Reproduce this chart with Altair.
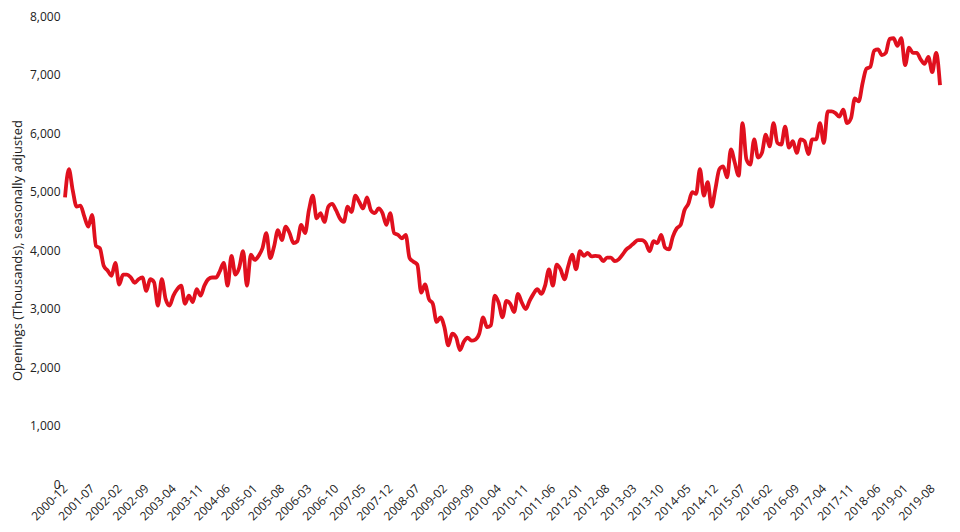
import altair as alt
import pandas as pd

start_year = 2000
start_month = 12

openings = [
    4900, 5380, 5020, 4740, 4760, 4570, 4400, 4600, 4070, 4030,
    3730, 3650, 3560, 3780, 3410, 3580, 3580, 3530, 3440, 3500,
    3530, 3300, 3500, 3450, 3050, 3500, 3160, 3050, 3220, 3330,
    3390, 3080, 3220, 3110, 3330, 3220, 3390, 3500, 3530, 3530,
    3640, 3780, 3390, 3900, 3580, 3700, 3980, 3390, 3920, 3830,
    3900, 4030, 4290, 3860, 4060, 4340, 4170, 4400, 4290, 4120,
    4150, 4430, 4290, 4680, 4930, 4540, 4630, 4480, 4740, 4790,
    4680, 4540, 4480, 4740, 4650, 4930, 4820, 4710, 4900, 4680,
    4630, 4710, 4630, 4430, 4630, 4290, 4260, 4200, 4260, 3860,
    3800, 3750, 3270, 3410, 3160, 3080, 2770, 2850, 2680, 2370,
    2570, 2510, 2290, 2430, 2500, 2450, 2470, 2570, 2850, 2680,
    2710, 3220, 3100, 2850, 3130, 3080, 2940, 3250, 3100, 2990,
    3130, 3250, 3330, 3250, 3390, 3670, 3390, 3750, 3670, 3500,
    3730, 3920, 3670, 3980, 3900, 3950, 3890, 3900, 3890, 3810,
    3870, 3870, 3810, 3840, 3920, 4010, 4060, 4120, 4170, 4170,
    4120, 3980, 4150, 4120, 4260, 4040, 4010, 4230, 4370, 4430,
    4680, 4790, 4990, 4960, 5380, 4930, 5160, 4740, 5050, 5380,
    5430, 5240, 5720, 5490, 5270, 6170, 5550, 5460, 5890, 5580,
    5660, 5970, 5770, 6170, 5830, 5800, 6110, 5750, 5860, 5660,
    5890, 5860, 5640, 5890, 5890, 6170, 5830, 6370, 6370, 6340,
    6280, 6400, 6170, 6250, 6590, 6540, 6850, 7100, 7130, 7410,
    7430, 7330, 7370, 7610, 7620, 7490, 7620, 7160, 7460, 7370,
    7370, 7260, 7180, 7300, 7040, 7370, 6820,
]

months = []
y, m = start_year, start_month
for _ in openings:
    months.append(f"{y}-{m:02d}")
    m += 1
    if m > 12:
        m = 1
        y += 1

tick_labels = months[::7]
y_ticks = [0, 1000, 2000, 3000, 4000, 5000, 6000, 7000, 8000]

df = pd.DataFrame({"month": months, "openings": openings})

FONT = "Open Sans"

chart = (
    alt.Chart(df)
    .mark_line(color="#e0101e", strokeWidth=3.8, interpolate="monotone")
    .encode(
        x=alt.X(
            "month:O",
            sort=months,
            scale=alt.Scale(type="point", padding=0),
            axis=alt.Axis(
                values=tick_labels,
                title=None,
                labelAngle=-45,
                labelAlign="right",
                labelBaseline="middle",
                labelPadding=2,
                ticks=False,
                domain=False,
                grid=False,
                labelFont=FONT,
                labelFontSize=12,
                labelColor="#222222",
                labelOverlap=False,
            ),
        ),
        y=alt.Y(
            "openings:Q",
            scale=alt.Scale(domain=[0, 8000], nice=False),
            axis=alt.Axis(
                values=y_ticks,
                format=",.0f",
                title="Openings (Thousands), seasonally adjusted",
                titleFont=FONT,
                titleFontSize=13,
                titleFontWeight="normal",
                titleColor="#222222",
                titlePadding=5,
                labelFont=FONT,
                labelFontSize=12,
                labelColor="#222222",
                labelPadding=5,
                ticks=False,
                domain=False,
                grid=False,
            ),
        ),
    )
    .properties(
        width=875,
        height=468,
        padding={"left": 57, "top": 8, "right": 12, "bottom": 40},
        autosize=alt.AutoSizeParams(type="none"),
    )
    .configure(background="white", view=alt.ViewConfig(stroke=None, strokeWidth=0))
)

chart.save("out.html", embed_options={"renderer": "svg", "actions": False})
